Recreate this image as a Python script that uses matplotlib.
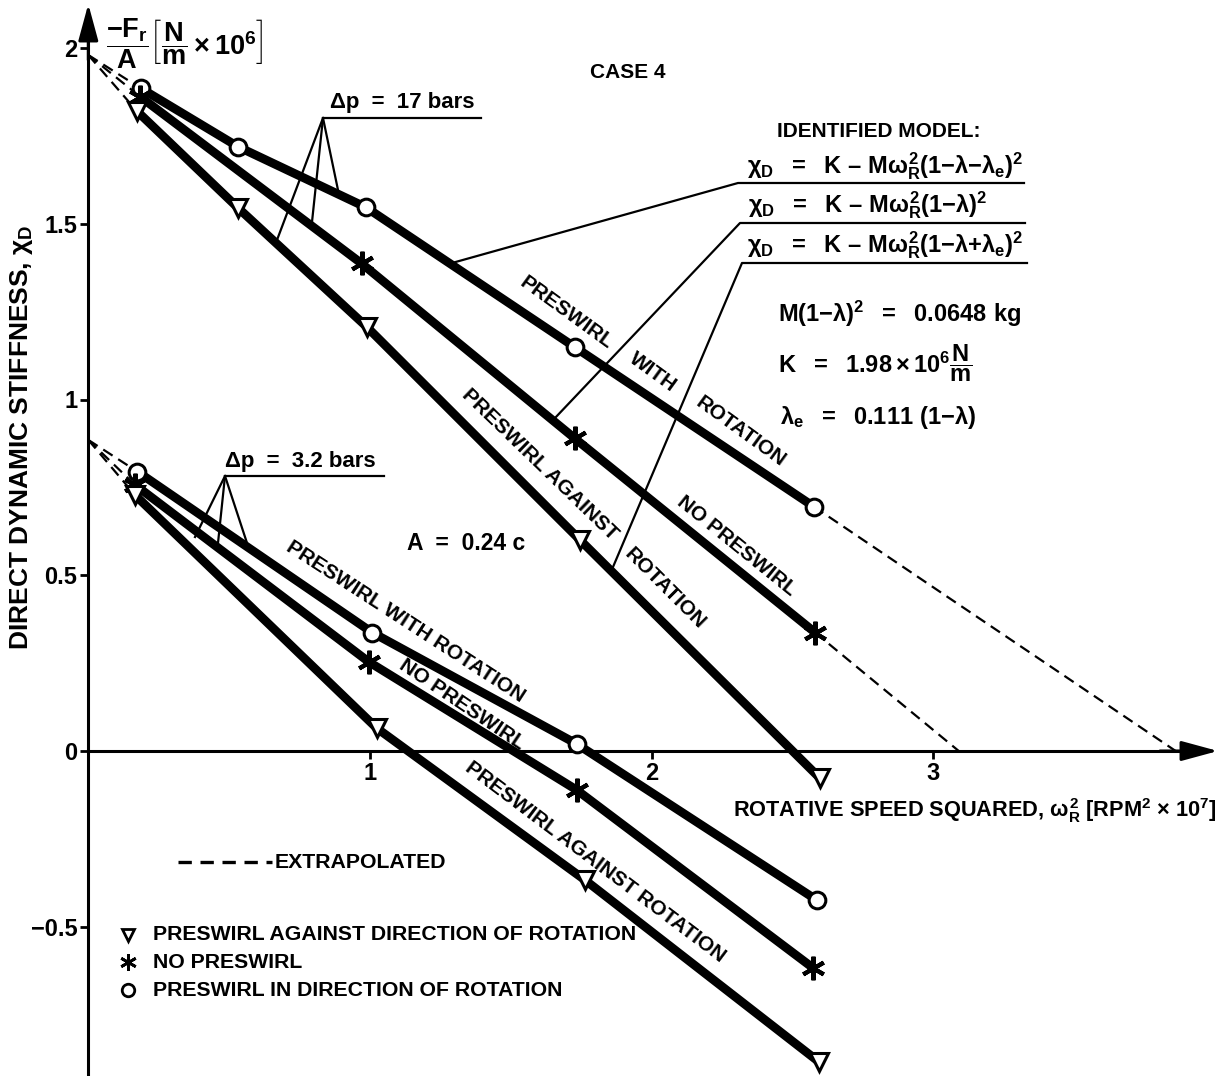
import matplotlib
matplotlib.use("Agg")
import matplotlib.pyplot as plt

plt.rcParams['font.family'] = ['Liberation Sans', 'DejaVu Sans']
plt.rcParams['font.weight'] = 'bold'
plt.rcParams['mathtext.fontset'] = 'custom'
plt.rcParams['mathtext.rm'] = 'Liberation Sans:bold'
plt.rcParams['mathtext.it'] = 'Liberation Sans:bold'
plt.rcParams['mathtext.bf'] = 'Liberation Sans:bold'
plt.rcParams['mathtext.sf'] = 'Liberation Sans:bold'

# delta p = 17 bars
w17_x = [0.187, 0.532, 0.985, 1.729, 2.576]
w17_y = [1.885, 1.719, 1.547, 1.148, 0.695]
n17_x = [0.185, 0.970, 1.726, 2.580]
n17_y = [1.861, 1.387, 0.890, 0.337]
a17_x = [0.172, 0.533, 0.988, 1.746, 2.598]
a17_y = [1.821, 1.544, 1.207, 0.600, -0.078]

# delta p = 3.2 bars
w3_x = [0.174, 1.008, 1.734, 2.586]
w3_y = [0.795, 0.337, 0.020, -0.424]
n3_x = [0.166, 0.995, 1.734, 2.574]
n3_y = [0.757, 0.254, -0.111, -0.618]
a3_x = [0.166, 1.024, 1.763, 2.593]
a3_y = [0.728, 0.065, -0.367, -0.884]

# extrapolation: value at zero speed, and where lines hit zero stiffness
k17 = 1.98
k3 = 0.885
w17_zero = 3.86
n17_zero = 3.09

yticks = [-0.5, 0, 0.5, 1, 1.5, 2]
ytick_labels = ['\u22120.5', '0', '0.5', '1', '1.5', '2']
xticks = [1, 2, 3]
xtick_labels = ['1', '2', '3']

# pixel layout of the original drawing
X0, SX, Y0, SY = 88.3, 281.7, 751.0, 351.5
W, H = 1227, 1076


def P(px, py):
    return ((px - X0) / SX, (Y0 - py) / SY)


fig = plt.figure(figsize=(W / 100, H / 100), dpi=100)
ax = fig.add_axes([0, 0, 1, 1])
ax.set_xlim(-X0 / SX, (W - X0) / SX)
ax.set_ylim((Y0 - H) / SY, Y0 / SY)

# axes through the origin
for s in ['top', 'right']:
    ax.spines[s].set_visible(False)
ax.spines['left'].set_position(('data', 0))
ax.spines['bottom'].set_position(('data', 0))
ax.spines['left'].set_linewidth(2.2)
ax.spines['bottom'].set_linewidth(2.2)
ax.spines['left'].set_bounds((Y0 - H) / SY, P(0, 30)[1])
ax.spines['bottom'].set_bounds(0, P(1190, 0)[0])
arrow = dict(arrowstyle='-|>,head_length=1.4,head_width=0.38', color='k',
             lw=2.2, mutation_scale=16, shrinkA=0, shrinkB=0)
ax.annotate('', xy=P(X0, 4), xytext=P(X0, 60), arrowprops=arrow)
ax.annotate('', xy=P(1218, Y0), xytext=P(1160, Y0), arrowprops=arrow)

ax.set_yticks(yticks, ytick_labels)
ax.set_xticks(xticks, xtick_labels)
ax.tick_params(direction='out', length=6, width=2, labelsize=17, pad=2)


def series(x, y, marker, ms, mew, mfc='white'):
    ax.plot(x, y, color='k', lw=6.3, solid_capstyle='butt', zorder=3)
    ax.plot(x, y, ls='none', marker=marker, ms=ms, mew=mew, mfc=mfc,
            mec='k', zorder=4)


star = (6, 2, 0)
series(w17_x, w17_y, 'o', 12, 2.2)
series(n17_x, n17_y, star, 17, 3, 'k')
series(a17_x, a17_y, 'v', 13, 2.2)
series(w3_x, w3_y, 'o', 12, 2.2)
series(n3_x, n3_y, star, 17, 3, 'k')
series(a3_x, a3_y, 'v', 13, 2.2)

# extrapolated parts
dash = dict(color='k', lw=1.6, dashes=(5, 3), zorder=2)
for x, y in [(w17_x, w17_y), (n17_x, n17_y), (a17_x, a17_y)]:
    ax.plot([0, x[0]], [k17, y[0]], **dash)
for x, y in [(w3_x, w3_y), (n3_x, n3_y), (a3_x, a3_y)]:
    ax.plot([0, x[0]], [k3, y[0]], **dash)
ax.plot([w17_x[-1], w17_zero], [w17_y[-1], 0], **dash)
ax.plot([n17_x[-1], n17_zero], [n17_y[-1], 0], **dash)

# leader lines
lead = dict(color='k', lw=1.6, zorder=2)
for pts in [[(481, 118), (323, 118), (277, 240)], [(323, 118), (312, 222)],
            [(323, 118), (338, 190)],
            [(384, 476), (225, 476), (195, 537)], [(225, 476), (218, 543)],
            [(225, 476), (247, 543)],
            [(1024, 183), (738, 183), (452, 263)],
            [(1025, 223), (740, 223), (555, 418)],
            [(1027, 263), (742, 263), (613, 567)]]:
    xy = [P(*p) for p in pts]
    ax.plot([p[0] for p in xy], [p[1] for p in xy], **lead)

fs = 15
mfs = 17
ax.text(*P(628, 73), 'CASE 4', ha='center', va='center', fontsize=15)
ax.text(*P(777, 137), 'IDENTIFIED MODEL:', ha='left', va='baseline', fontsize=fs)
ax.text(*P(747, 173), r'$\chi_D\ \ =\ \ K\ \endash\ M\omega_R^2(1{-}\lambda{-}\lambda_e)^2$',
        ha='left', va='baseline', fontsize=mfs)
ax.text(*P(748, 212), r'$\chi_D\ \ =\ \ K\ \endash\ M\omega_R^2(1{-}\lambda)^2$',
        ha='left', va='baseline', fontsize=mfs)
ax.text(*P(747, 252), r'$\chi_D\ \ =\ \ K\ \endash\ M\omega_R^2(1{-}\lambda{+}\lambda_e)^2$',
        ha='left', va='baseline', fontsize=mfs)
ax.text(*P(778, 322), r'$M(1{-}\lambda)^2\ \ =\ \ 0.0648\ kg$',
        ha='left', va='baseline', fontsize=mfs)
ax.text(*P(778, 373), r'$K\ \ =\ \ 1.98\times10^6\dfrac{N}{m}$',
        ha='left', va='baseline', fontsize=mfs)
ax.text(*P(780, 424), r'$\lambda_e\ \ =\ \ 0.111\ (1{-}\lambda)$',
        ha='left', va='baseline', fontsize=mfs)
ax.text(*P(330, 108), '\u0394p  =  17 bars', ha='left', va='baseline', fontsize=16)
ax.text(*P(225, 467), '\u0394p  =  3.2 bars', ha='left', va='baseline', fontsize=16)
ax.text(*P(407, 550), 'A  =  0.24 c', ha='left', va='baseline', fontsize=16.5)
ax.text(*P(106, 44), r'$\dfrac{-F_r}{A}\left[\dfrac{N}{m}\times10^6\right]$',
        ha='left', va='center', fontsize=19.5)
ax.text(*P(22, 437), r'DIRECT DYNAMIC STIFFNESS, $\chi_D$', rotation=90,
        ha='center', va='center', fontsize=19)
ax.text(*P(1217, 817), r'ROTATIVE SPEED SQUARED, $\omega_R^2$ [RPM$^2$ $\times$ 10$^7$]',
        ha='right', va='baseline', fontsize=15.7)

# labels along the lines
for txt, (px, py), ang in [
        ('PRESWIRL', (566, 313), -36), ('WITH', (653, 372), -36),
        ('ROTATION', (741, 432), -36), ('PRESWIRL AGAINST', (540, 465), -44),
        ('ROTATION', (665, 589), -45), ('NO PRESWIRL', (737, 546), -39),
        ('PRESWIRL WITH ROTATION', (406, 622), -33),
        ('NO PRESWIRL', (462, 705), -34),
        ('PRESWIRL AGAINST ROTATION', (595, 862), -37)]:
    ax.text(*P(px, py), txt, rotation=ang, rotation_mode='anchor',
            ha='center', va='center', fontsize=fs, zorder=5)

# key
kx0, ky0 = P(178, 862)
kx1, _ = P(272, 862)
ax.plot([kx0, kx1], [ky0, ky0], color='k', lw=2.4, dashes=(4, 2.6))
ax.text(*P(275, 862), 'EXTRAPOLATED', ha='left', va='center', fontsize=15.3)
for (py, marker, ms, mfc), txt in zip(
        [(935, 'v', 9, 'white'), (962, star, 12, 'k'), (990, 'o', 9, 'white')],
        ['PRESWIRL AGAINST DIRECTION OF ROTATION', 'NO PRESWIRL',
         'PRESWIRL IN DIRECTION OF ROTATION']):
    ax.plot(*P(128, py), marker=marker, ms=ms, mfc=mfc, mec='k', mew=2)
    ax.text(*P(153, py), txt, ha='left', va='center', fontsize=15.3)

fig.savefig('out.png', dpi=100)
